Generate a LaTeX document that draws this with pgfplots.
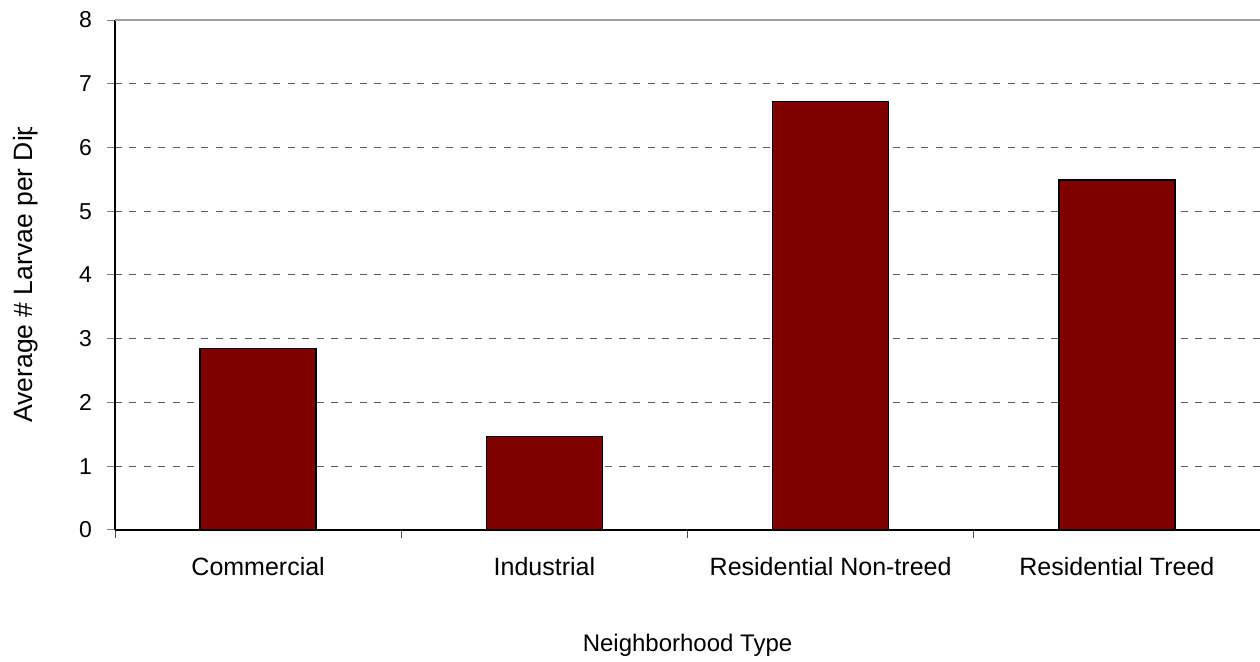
\documentclass[border=0pt]{standalone}
\usepackage{fontspec}
\setmainfont{Liberation Sans}
\usepackage{pgfplots}
\pgfplotsset{compat=1.18}
\definecolor{barred}{HTML}{800000}
\definecolor{gridgray}{HTML}{5A5A5A}
\definecolor{topgray}{HTML}{A0A0A0}
\begin{document}
\begin{tikzpicture}
\useasboundingbox (0,0) rectangle (630pt,331pt);
\begin{axis}[
  at={(57.5pt,66pt)}, anchor=south west,
  scale only axis, width=572.5pt, height=255pt,
  xmin=-0.5, xmax=3.5, ymin=0, ymax=8,
  clip=false,
  axis x line*=bottom, axis y line*=left,
  axis line style={black, line width=0.6pt},
  ybar, bar width=58pt,
  xtick={0,1,2,3},
  xticklabels={Commercial,Industrial,Residential Non-treed,Residential Treed},
  minor xtick={-0.5,0.5,1.5,2.5,3.5},
  major x tick style={draw=none},
  minor x tick style={draw=black!70, line width=0.5pt},
  ytick={0,1,...,8},
  yticklabels={0,1,2,3,4,5,6,7,8},
  major y tick style={draw=black!50, line width=0.5pt},
  tick align=outside,
  major tick length=4pt, minor tick length=4pt,
  ymajorgrids,
  major grid style={gridgray, line width=0.5pt, dash pattern=on 3.5pt off 3.7pt},
  yticklabel style={font=\fontsize{11.5}{13}\selectfont, anchor=east, xshift=-4pt},
  xticklabel style={font=\fontsize{12.5}{15}\selectfont, anchor=base, yshift=-19pt},
  xlabel={Neighborhood Type},
  xlabel style={at={(axis description cs:0.5,0)}, anchor=base, yshift=-61pt, font=\fontsize{12}{14}\selectfont},
]
\addplot[fill=barred, draw=black, line width=0.75pt] coordinates {(0,2.85) (1,1.47) (2,6.72) (3,5.49)};
\draw[topgray, line width=1pt] (rel axis cs:0,1) -- (rel axis cs:1,1);
\end{axis}
\begin{scope}
\clip (0,0) rectangle (57pt,267pt);
\node[rotate=90, anchor=base, inner sep=0pt, font=\fontsize{13.25}{16}\selectfont] at (16.5pt,195pt) {Average \# Larvae per Dip};
\end{scope}
\end{tikzpicture}
\end{document}
